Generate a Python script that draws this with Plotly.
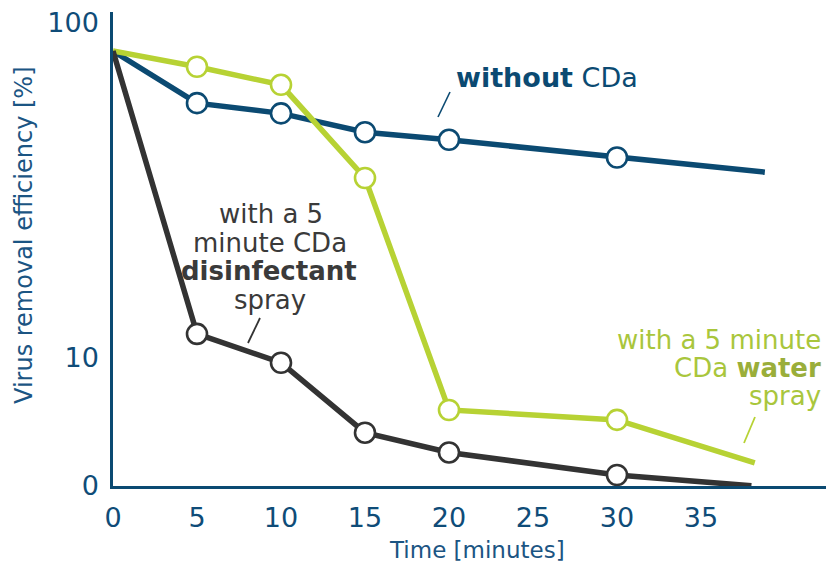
import plotly.graph_objects as go

# ---- data ----
time_points = [0, 5, 10, 15, 20, 30]
without_x = time_points + [38.8]
without_y = [82.2, 57.5, 53.6, 47.1, 44.7, 39.6, 35.8]
water_x = time_points + [38.2]
water_y = [82.2, 73.8, 65.2, 34.4, 7.0, 6.54, 4.87]
disinf_x = time_points + [38.0]
disinf_y = [82.2, 11.8, 9.68, 5.99, 5.23, 4.48, 4.16]

x_ticks = [0, 5, 10, 15, 20, 25, 30, 35]
y_tick_vals = [4.155, 10, 100]
y_tick_text = ["0", "10", "100"]

BLUE = "#0b4a72"
GREEN = "#b7d234"
DARK = "#333333"
FONT = "DejaVu Sans"

W, H = 829, 569
L, R, T, B = 113, 3, 12, 83
PW, PH = W - L - R, H - T - B


def px(x):
    return (x - L) / PW


def py(y):
    return (H - B - y) / PH


fig = go.Figure()


def add_series(xs, ys, color):
    fig.add_trace(go.Scatter(
        x=xs, y=ys, mode="lines", line=dict(color=color, width=5.5),
        hoverinfo="skip", showlegend=False, cliponaxis=False))
    fig.add_trace(go.Scatter(
        x=xs[1:-1], y=ys[1:-1], mode="markers",
        marker=dict(size=20, color="white", line=dict(color=color, width=2.6)),
        showlegend=False, cliponaxis=False))


add_series(without_x, without_y, BLUE)
add_series(water_x, water_y, GREEN)
add_series(disinf_x, disinf_y, DARK)

annotations = []


def text(x, y, s, color, size=27, anchor="left"):
    annotations.append(dict(
        x=px(x), y=py(y), xref="paper", yref="paper", text=s, showarrow=False,
        xanchor=anchor, yanchor="middle", font=dict(family=FONT, size=size, color=color)))


# without CDa
text(454, 78, "<b>without</b> CDa", BLUE)
# disinfectant
DTXT = "#3a3a3a"
text(271, 214, "with a 5", DTXT, size=26, anchor="center")
text(270, 243, "minute CDa", DTXT, size=26, anchor="center")
text(269, 271, "<b>disinfectant</b>", DTXT, size=26, anchor="center")
text(270, 300, "spray", DTXT, size=26, anchor="center")
# water
GTXT = "#a9c63c"
text(823, 340, "with a 5 minute", GTXT, size=26, anchor="right")
text(823, 368, "CDa <b><span style='color:#9aae3a'>water</span></b>", GTXT, size=26,
     anchor="right")
text(823, 396, "spray", GTXT, size=26, anchor="right")

# axis titles
annotations.append(dict(x=px(477), y=py(550), xref="paper", yref="paper", text="Time [minutes]",
                        showarrow=False, xanchor="center", yanchor="middle",
                        font=dict(family=FONT, size=23, color="#1b5583")))
annotations.append(dict(x=px(24), y=py(235), xref="paper", yref="paper",
                        text="Virus removal efficiency [%]", textangle=-90,
                        showarrow=False, xanchor="center", yanchor="middle",
                        font=dict(family=FONT, size=24, color="#1b5583")))

shapes = [
    dict(type="line", xref="paper", yref="paper", x0=px(438), y0=py(117), x1=px(450), y1=py(92),
         line=dict(color=BLUE, width=1.6)),
    dict(type="line", xref="paper", yref="paper", x0=px(248), y0=py(343), x1=px(260), y1=py(318),
         line=dict(color=DARK, width=1.8)),
    dict(type="line", xref="paper", yref="paper", x0=px(744), y0=py(443), x1=px(755), y1=py(417),
         line=dict(color=GREEN, width=1.8)),
]

fig.update_layout(
    width=W, height=H, margin=dict(l=L, r=R, t=T, b=B),
    paper_bgcolor="white", plot_bgcolor="white",
    font=dict(family=FONT),
    annotations=annotations, shapes=shapes,
    xaxis=dict(range=[0, PW / 16.8], tickvals=x_ticks, showgrid=False, zeroline=False,
               showline=True, linecolor=BLUE, linewidth=2.5,
               ticks="outside", ticklen=6, tickcolor="rgba(0,0,0,0)",
               tickfont=dict(family=FONT, size=27, color="#0f4c78")),
    yaxis=dict(type="log", range=[0.6185, 2.0313], tickvals=y_tick_vals, ticktext=y_tick_text,
               showgrid=False, zeroline=False, showline=True, linecolor=BLUE, linewidth=2.5,
               ticks="outside", ticklen=6, tickcolor="rgba(0,0,0,0)",
               tickfont=dict(family=FONT, size=27, color="#0f4c78")),
)

fig.write_html("out.html", config={"displayModeBar": False},
               post_script="document.body.style.margin='0';document.body.style.padding='0';")
